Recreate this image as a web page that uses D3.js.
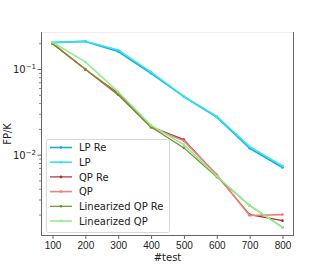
<!DOCTYPE html>
<html><head><meta charset="utf-8">
<script src="https://cdn.jsdelivr.net/npm/d3@7"></script>
<style>body{margin:0;background:#fff}svg{display:block;font-family:"DejaVu Sans",sans-serif}</style>
</head><body><svg id="c" width="327" height="266"></svg>
<script>
const tests = [100,200,300,400,500,600,700,800];
const lpRe = [0.203,0.210,0.160,0.089,0.0475,0.0275,0.0119,0.0071];
const lp = [0.204,0.211,0.167,0.092,0.0478,0.0280,0.0124,0.0074];
const qpRe = [0.199,0.099,0.052,0.0212,0.0150,0.00575,0.00200,0.00170];
const qp = [0.200,0.100,0.050,0.0208,0.0145,0.00585,0.00195,0.00200];
const linQpRe = [0.197,0.099,0.050,0.0210,0.0120,0.00550,0.00255,0.00142];
const linQp = [0.205,0.121,0.054,0.0220,0.0131,0.00560,0.00255,0.00142];
const seriesNames = ["LP Re","LP","QP Re","QP","Linearized QP Re","Linearized QP"];
const seriesVals = [lpRe,lp,qpRe,qp,linQpRe,linQp];
const colors = ["#1aa7e0","#33e4f0","#b22b2b","#f08080","#6b8e23","#90ee90"];
const widths = [1.6,1.6,1.2,1.6,1.2,1.6];
const xTicks = [100,200,300,400,500,600,700,800];

const svg = d3.select("#c");
const L=41,R=294,T=32,B=236;
const x = d3.scaleLinear().domain([65,835]).range([L,R]);
const y = d3.scaleLog().domain([Math.pow(10,-2.949),Math.pow(10,-0.568)]).range([B,T]);

// spines
svg.append("line").attr("x1",L).attr("x2",R).attr("y1",T+0.5).attr("y2",T+0.5).attr("stroke","#eeeeee");
svg.append("line").attr("x1",L+0.5).attr("x2",L+0.5).attr("y1",T).attr("y2",B).attr("stroke","#666");
svg.append("line").attr("x1",R-0.5).attr("x2",R-0.5).attr("y1",T).attr("y2",B).attr("stroke","#666");
svg.append("line").attr("x1",L).attr("x2",R).attr("y1",B-0.5).attr("y2",B-0.5).attr("stroke","#666");

// x axis
const xa = svg.append("g").attr("transform",`translate(0,${B})`)
  .call(d3.axisBottom(x).tickValues(xTicks).tickSize(3).tickFormat(d3.format("d")));
xa.select(".domain").remove();
xa.selectAll("line").attr("stroke","#666");
xa.selectAll("text").attr("font-size",10).attr("fill","#222").attr("dy","0.75em").attr("y",5);

// y axis minor ticks
const minor = [];
[0.001,0.01,0.1].forEach(b=>{for(let k=2;k<=9;k++){const v=b*k; if(v>=y.domain()[0]&&v<=y.domain()[1]) minor.push(v);}});
const ya = svg.append("g").attr("transform",`translate(${L},0)`)
  .call(d3.axisLeft(y).tickValues(minor).tickSize(2).tickFormat(""));
ya.select(".domain").remove();
ya.selectAll("line").attr("stroke","#888");
const majors = [0.1,0.01];
const yb = svg.append("g").attr("transform",`translate(${L},0)`)
  .call(d3.axisLeft(y).tickValues(majors).tickSize(3.5).tickFormat(""));
yb.select(".domain").remove();
yb.selectAll("line").attr("stroke","#666");
majors.forEach(v=>{
  const t = svg.append("text").attr("x",L-5).attr("y",y(v)+4).attr("text-anchor","end").attr("font-size",10).attr("fill","#222");
  t.append("tspan").text("10");
  t.append("tspan").attr("font-size",7).attr("dy",-4).text("\u2212"+Math.round(-Math.log10(v)));
});

// labels
svg.append("text").attr("x",(L+R)/2).attr("y",261).attr("text-anchor","middle").attr("font-size",10).attr("fill","#222").text("#test");
svg.append("text").attr("transform",`translate(11,${(T+B)/2}) rotate(-90)`).attr("text-anchor","middle").attr("font-size",10).attr("fill","#222").text("FP/K");

// lines
const line = d3.line().x((d,i)=>x(tests[i])).y(d=>y(d));
const order = [5,4,3,2,1,0];
const plotG = svg.append("g");
[0,1,2,3,4,5].forEach(s=>{
  plotG.append("path").datum(seriesVals[s]).attr("d",line).attr("fill","none")
    .attr("stroke",colors[s]).attr("stroke-width",widths[s]).attr("stroke-linejoin","round");
  plotG.selectAll(null).data(seriesVals[s]).enter().append("circle")
    .attr("cx",(d,i)=>x(tests[i])).attr("cy",d=>y(d)).attr("r",1.3).attr("fill",colors[s]);
});

// legend
const lg = svg.append("g");
lg.append("rect").attr("x",46.5).attr("y",139.5).attr("width",123).attr("height",93).attr("rx",2)
  .attr("fill","#fff").attr("fill-opacity",0.8).attr("stroke","#d8d8d8");
seriesNames.forEach((n,i)=>{
  const yy = 147.5 + i*14.7;
  lg.append("line").attr("x1",50).attr("x2",72).attr("y1",yy).attr("y2",yy).attr("stroke",colors[i]).attr("stroke-width",widths[i]);
  lg.append("circle").attr("cx",61).attr("cy",yy).attr("r",1.3).attr("fill",colors[i]);
  lg.append("text").attr("x",79).attr("y",yy+3.6).attr("font-size",10).attr("fill","#222").text(n);
});
</script></body></html>
